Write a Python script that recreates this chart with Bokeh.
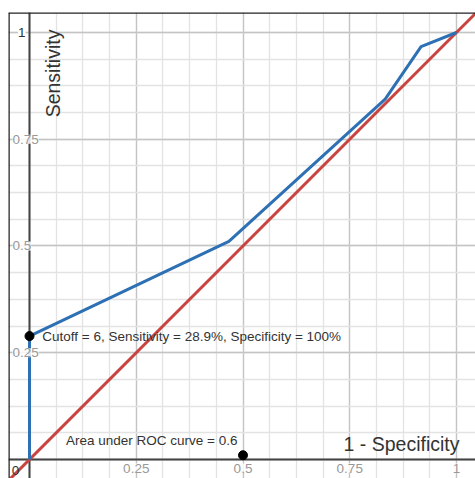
from bokeh.plotting import figure
from bokeh.models import Span, FixedTicker, ColumnDataSource
from bokeh.embed import file_html
from bokeh.resources import INLINE
from bokeh.core.properties import value
import numpy as np

# ROC curve data (1 - specificity, sensitivity)
fpr = [0.0, 0.0, 0.467, 0.833, 0.917, 1.0]
tpr = [0.0, 0.289, 0.511, 0.844, 0.967, 1.0]

cutoff_pt = (0.0, 0.289)
auc_pt = (0.5, 0.01)
cutoff_label = "Cutoff = 6, Sensitivity = 28.9%, Specificity = 100%"
auc_label = "Area under ROC curve = 0.6"

xtick_vals = [0.25, 0.5, 0.75, 1.0]
xtick_labels = ["0.25", "0.5", "0.75", "1"]
ytick_vals = [0.25, 0.5, 0.75]
ytick_labels = ["0.25", "0.5", "0.75"]

x_lo, x_hi = -0.0492, 1.0445
y_lo, y_hi = -0.0445, 1.0468

FONT = "Liberation Sans"

p = figure(width=475, height=478, x_range=(x_lo, x_hi), y_range=(y_lo, y_hi),
           output_backend="svg", toolbar_location=None,
           min_border_top=12, min_border_left=8, min_border_right=0, min_border_bottom=0)
p.xaxis.visible = False
p.yaxis.visible = False
p.outline_line_color = None
p.background_fill_color = "white"
p.border_fill_color = "white"

major = list(np.arange(-0.25, 1.26, 0.25))
minor = list(np.arange(-0.25, 1.26, 0.0625))
for g in (p.xgrid, p.ygrid):
    g.ticker = FixedTicker(ticks=major, minor_ticks=minor)
    g.grid_line_color = "#c4c4c4"
    g.grid_line_width = 1.3
    g.minor_grid_line_color = "#e3e3e3"
    g.minor_grid_line_width = 1.3

# frame borders (top and left)
p.add_layout(Span(location=y_hi, dimension="width", line_color="#222222", line_width=2.5))
p.add_layout(Span(location=x_lo, dimension="height", line_color="#222222", line_width=2.5))

# axes through origin (drawn as glyphs so labels can sit on top)
p.segment(x0=[x_lo, 0], y0=[0, y_lo], x1=[x_hi, 0], y1=[0, y_hi],
          line_color="#444444", line_width=2)

# reference diagonal
p.line([x_lo - 0.05, x_hi + 0.05], [x_lo - 0.05, x_hi + 0.05], line_color="#c74440", line_width=3)
# ROC curve
p.line(fpr, tpr, line_color="#2d70b3", line_width=3)

p.scatter([cutoff_pt[0], auc_pt[0]], [cutoff_pt[1], auc_pt[1]], size=9, color="black")

# tick labels
xsrc = ColumnDataSource(dict(x=xtick_vals, y=[-0.020] * len(xtick_vals), t=xtick_labels))
p.text("x", "y", text="t", source=xsrc, text_align="center", text_baseline="middle",
       text_font=value(FONT), text_font_size="13.5px", text_color="#999999",
       background_fill_color="white", background_fill_alpha=0.85)
ysrc = ColumnDataSource(dict(x=[-0.040] * len(ytick_vals), y=ytick_vals, t=ytick_labels))
p.text("x", "y", text="t", source=ysrc, text_align="left", text_baseline="middle",
       text_font=value(FONT), text_font_size="13.5px", text_color="#999999",
       background_fill_color="white", background_fill_alpha=0.85)
p.text([-0.018], [1.0], text=["1"], text_align="center", text_baseline="middle",
       text_font=value(FONT), text_font_size="13.5px", text_color="#333333",
       background_fill_color="white")
p.text([-0.033], [-0.026], text=["0"], text_align="center", text_baseline="middle",
       text_font=value(FONT), text_font_size="13.5px", text_color="#333333")

# axis titles
p.text([0.056], [0.904], text=["Sensitivity"], angle=np.pi / 2, text_align="center",
       text_baseline="middle", text_font=value(FONT), text_font_size="19.5px", text_color="#333333")
p.text([1.007], [0.037], text=["1 - Specificity"], text_align="right",
       text_baseline="middle", text_font=value(FONT), text_font_size="19.5px", text_color="#333333")

# annotations
p.text([cutoff_pt[0] + 0.030], [cutoff_pt[1]], text=[cutoff_label], text_align="left",
       text_baseline="middle", text_font=value(FONT), text_font_size="13.5px", text_color="#333333")
p.text([auc_pt[0] - 0.013], [auc_pt[1] + 0.034], text=[auc_label], text_align="right",
       text_baseline="middle", text_font=value(FONT), text_font_size="13.5px", text_color="#333333")

open("out.html", "w").write(file_html(p, INLINE))
